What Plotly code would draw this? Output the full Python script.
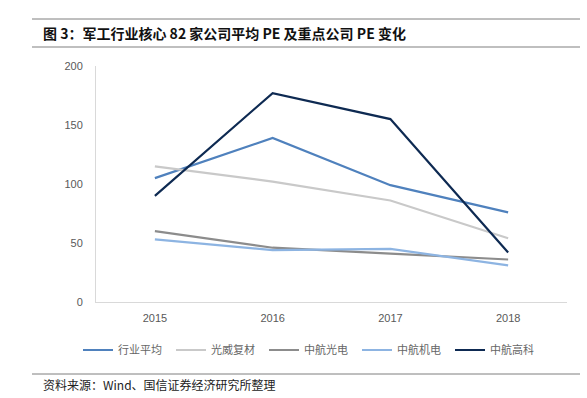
import plotly.graph_objects as go

years = ["2015", "2016", "2017", "2018"]
industry_avg = [105, 139, 99, 76]
guangwei = [115, 102, 86, 54]
avic_optics = [60, 46, 41, 36]
avic_electro = [53, 44, 45, 31]
avic_hitech = [90, 177, 155, 42]

series = [
    ("行业平均", industry_avg, "#4f81bd"),
    ("光威复材", guangwei, "#c9c9c9"),
    ("中航光电", avic_optics, "#8c8c8c"),
    ("中航机电", avic_electro, "#8db4e2"),
    ("中航高科", avic_hitech, "#0e2a52"),
]

L, R, T, B = 96, 20, 66, 96
W, H = 587, 398
pw = W - L - R
ph = H - T - B

def px_x(x):
    return (x - L) / pw

def px_y(y):
    return (H - B - y) / ph

fig = go.Figure()
for name, vals, col in series:
    fig.add_trace(go.Scatter(x=years, y=vals, name=name, mode="lines",
                             line=dict(color=col, width=2.2)))

fig.update_layout(
    width=W, height=H,
    margin=dict(l=L, r=R, t=T, b=B, autoexpand=False),
    paper_bgcolor="white", plot_bgcolor="white",
    font=dict(family="Liberation Sans, Arial, Noto Sans CJK SC", size=11, color="#595959"),
    showlegend=True,
    legend=dict(orientation="h", xref="container", yref="container",
                x=78 / W, y=1 - 350 / H, xanchor="left", yanchor="middle",
                entrywidth=48, entrywidthmode="pixels",
                font=dict(family="Noto Sans CJK SC", size=11, color="#666666"),
                bgcolor="rgba(0,0,0,0)", itemwidth=30),
    xaxis=dict(type="category", range=[-0.5, 3.5], showline=True, linecolor="#d9d9d9",
               linewidth=1, ticks="", showgrid=False, zeroline=False,
               ticklabelstandoff=6, tickfont=dict(size=11, color="#595959")),
    yaxis=dict(range=[0, 200], dtick=50, showline=True, linecolor="#d9d9d9",
               linewidth=1, ticks="", showgrid=False, zeroline=False,
               ticklabelstandoff=10, tickfont=dict(size=11, color="#595959")),
)

fig.add_annotation(xref="paper", yref="paper", x=px_x(41), y=px_y(33),
                   xanchor="left", yanchor="middle", showarrow=False,
                   text="<b>图 3：军工行业核心 82 家公司平均 PE 及重点公司 PE 变化</b>",
                   font=dict(family="Noto Sans CJK SC", size=14, color="#111111"))
fig.add_annotation(xref="paper", yref="paper", x=px_x(41), y=px_y(384),
                   xanchor="left", yanchor="middle", showarrow=False,
                   text="资料来源：Wind、国信证券经济研究所整理",
                   font=dict(family="Noto Sans CJK SC", size=12, color="#222222"))

fig.add_shape(type="line", xref="paper", yref="paper", x0=px_x(32), x1=px_x(580),
              y0=px_y(19), y1=px_y(19), line=dict(color="#7f7f7f", width=1))
fig.add_shape(type="line", xref="paper", yref="paper", x0=px_x(32), x1=px_x(580),
              y0=px_y(47), y1=px_y(47), line=dict(color="#bfbfbf", width=2))
fig.add_shape(type="line", xref="paper", yref="paper", x0=px_x(32), x1=px_x(580),
              y0=px_y(374), y1=px_y(374), line=dict(color="#7f7f7f", width=1))

fig.write_html("out.html", config={"displayModeBar": False},
               post_script="document.body.style.margin='0';")
